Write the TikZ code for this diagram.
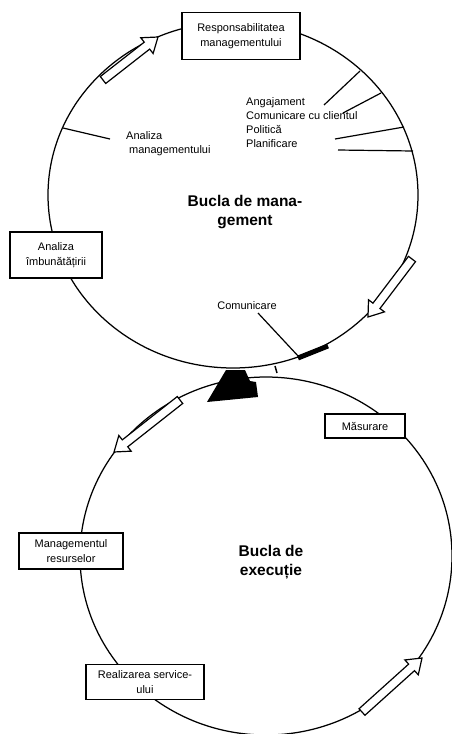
\documentclass[tikz,border=0pt]{standalone}
\usepackage{fontspec}
\setmainfont{Liberation Sans}
\usetikzlibrary{calc}
\tikzset{
  loop/.style={line width=1.25pt},
  box/.style={draw, line width=1.3pt, fill=white, inner sep=0pt, align=center, font=\fontsize{11}{14.5}\selectfont},
  lbl/.style={inner sep=0pt, align=left, font=\fontsize{11}{14}\selectfont},
  title/.style={inner sep=0pt, align=center, font=\bfseries\fontsize{15.5}{19}\selectfont},
  tick/.style={line width=1.2pt},
  blockarr/.style={draw, line width=1.2pt, fill=white, line join=miter},
}
\newcommand\blockarrow[2]{%
  \draw[blockarr] let \p1=($(#2)-(#1)$), \n1={atan2(\y1,\x1)}, \n2={veclen(\x1,\y1)} in
    [shift={(#1)}, rotate=\n1]
    (0pt,-4.4pt) -- ({\n2*1pt-14pt},-4.4pt) -- ({\n2*1pt-14pt},-10pt) -- ({\n2*1pt},0pt)
    -- ({\n2*1pt-14pt},10pt) -- ({\n2*1pt-14pt},4.4pt) -- (0pt,4.4pt) -- cycle;}
\begin{document}
\begin{tikzpicture}[x=1pt,y=-1pt]
\useasboundingbox (0,0) rectangle (452,734);
% loops
\draw[loop] (233,195) ellipse [x radius=185pt, y radius=173pt];
\draw[loop] (266,556) ellipse [x radius=186pt, y radius=179pt];
% titles
\node[title] (t1) at (245,212) {Bucla de mana-\\gement};
\node[title] (t2) at (271,562) {\fontsize{15.5}{21}\selectfont Bucla de\\execuție};
% ticks upper loop
\coordinate (la) at (63,128); \coordinate (lb) at (110,139);
\draw[tick] (la) -- (lb);
\coordinate (r1a) at (360,71);  \coordinate (r1b) at (324,105);
\coordinate (r2a) at (381,93);  \coordinate (r2b) at (343,113);
\coordinate (r3a) at (404,127); \coordinate (r3b) at (335,139);
\coordinate (r4a) at (413,151); \coordinate (r4b) at (338,150);
\draw[tick] (r1a) -- (r1b);
\draw[tick] (r2a) -- (r2b);
\draw[tick] (r3a) -- (r3b);
\draw[tick] (r4a) -- (r4b);
\node[lbl, anchor=north west] (am) at (126,131) {Analiza\\[0pt]\hspace*{3pt}managementului};
\node[lbl, anchor=north west] (ang) at (246,97) {Angajament\\Comunicare cu clientul\\Politică\\Planificare};
% comunicare
\node[lbl] (com) at (247,306) {Comunicare};
\coordinate (ca) at (258,313); \coordinate (cb) at (299,357);
\draw[tick] (ca) -- (cb);
\coordinate (ta) at (298,358); \coordinate (tb) at (328,346);
\draw[line width=5pt] (ta) -- (tb);
\coordinate (sa) at (275,366); \coordinate (sb) at (277,373);
\draw[line width=1.5pt] (sa) -- (sb);
% black triangle
\fill (226,370) -- (245,370) -- (250,381) -- (256,382) -- (258,397) -- (207,402) -- cycle;
% block arrows
\coordinate (a1t) at (103,80);  \coordinate (a1h) at (158,37);
\coordinate (a2t) at (412,259); \coordinate (a2h) at (368,317);
\coordinate (a3t) at (180,400); \coordinate (a3h) at (114,452);
\coordinate (a4t) at (362,712); \coordinate (a4h) at (422,658);
\blockarrow{a1t}{a1h}
\blockarrow{a2t}{a2h}
\blockarrow{a3t}{a3h}
\blockarrow{a4t}{a4h}
% boxes
\node[box, minimum width=118pt, minimum height=47pt] (resp) at (241,36) {Responsabilitatea\\managementului};
\node[box, minimum width=92pt, minimum height=46pt] (aimb) at (56,255) {Analiza\\îmbunătățirii};
\node[box, minimum width=80pt, minimum height=24pt] (mas) at (365,426) {Măsurare};
\node[box, minimum width=104pt, minimum height=36pt] (mres) at (71,551) {Managementul\\resurselor};
\node[box, minimum width=118pt, minimum height=35pt] (real) at (145,682) {Realizarea service-\\ului};
\end{tikzpicture}
\end{document}
